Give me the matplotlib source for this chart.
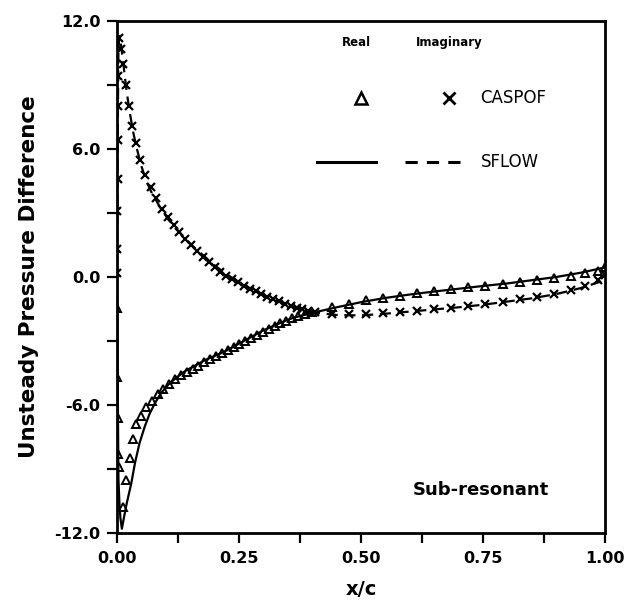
import matplotlib
matplotlib.use('Agg')
import matplotlib.pyplot as plt

plt.rcParams['font.family'] = ['DejaVu Sans']

# SFLOW real part (solid line)
sflow_re_x = [0.0, 0.001, 0.002, 0.003, 0.005, 0.007, 0.010, 0.014, 0.020, 0.029,
              0.037, 0.046, 0.057, 0.067, 0.078, 0.09, 0.105, 0.12, 0.14, 0.16,
              0.18, 0.2, 0.22, 0.24, 0.26, 0.28, 0.3, 0.32, 0.34, 0.36,
              0.38, 0.4, 0.45, 0.5, 0.55, 0.6, 0.65, 0.7, 0.75, 0.8,
              0.85, 0.9, 0.95, 1.0]
sflow_re_y = [0.5, -3.0, -6.5, -9.5, -10.6, -11.3, -11.8, -11.3, -10.6, -9.7,
              -8.7, -7.8, -7.0, -6.4, -5.9, -5.45, -5.05, -4.75, -4.4, -4.15,
              -3.9, -3.7, -3.5, -3.25, -3.0, -2.75, -2.5, -2.3, -2.1, -1.92,
              -1.8, -1.68, -1.42, -1.18, -0.98, -0.82, -0.68, -0.55, -0.42, -0.3,
              -0.15, 0.0, 0.2, 0.45]

# SFLOW imaginary part (dashed line)
sflow_im_x = [0.0, 0.001, 0.002, 0.003, 0.005, 0.008, 0.012, 0.016, 0.021, 0.027,
              0.034, 0.042, 0.05, 0.06, 0.07, 0.08, 0.09, 0.105, 0.12, 0.14,
              0.16, 0.18, 0.2, 0.22, 0.24, 0.26, 0.28, 0.3, 0.32, 0.34,
              0.36, 0.38, 0.4, 0.45, 0.5, 0.55, 0.6, 0.65, 0.7, 0.75,
              0.8, 0.85, 0.9, 0.95, 1.0]
sflow_im_y = [0.0, 4.0, 8.0, 10.8, 11.3, 10.9, 10.2, 9.4, 8.5, 7.6,
              6.7, 5.9, 5.2, 4.5, 4.0, 3.6, 3.2, 2.7, 2.3, 1.8,
              1.35, 0.95, 0.55, 0.2, -0.1, -0.38, -0.62, -0.85, -1.05, -1.22,
              -1.38, -1.52, -1.65, -1.78, -1.8, -1.72, -1.62, -1.52, -1.42, -1.3,
              -1.15, -1.0, -0.8, -0.52, -0.15]

# CASPOF real part (triangles)
caspof_re_x = [0.0, 0.001, 0.002, 0.003, 0.004, 0.012, 0.019, 0.027, 0.033, 0.039,
               0.049, 0.06, 0.071, 0.083, 0.095, 0.107, 0.119, 0.131, 0.143, 0.155,
               0.167, 0.179, 0.191, 0.203, 0.215, 0.227, 0.239, 0.251, 0.263, 0.275,
               0.287, 0.299, 0.311, 0.323, 0.335, 0.347, 0.359, 0.371, 0.385, 0.40,
               0.44, 0.475, 0.51, 0.545, 0.58, 0.615, 0.65, 0.685, 0.72, 0.755,
               0.79, 0.825, 0.86, 0.895, 0.93, 0.96, 0.985, 1.0]
caspof_re_y = [-1.45, -4.7, -6.6, -8.3, -8.9, -10.8, -9.5, -8.5, -7.6, -6.9,
               -6.5, -6.1, -5.8, -5.5, -5.25, -5.0, -4.8, -4.6, -4.45, -4.3,
               -4.15, -4.0, -3.85, -3.7, -3.57, -3.43, -3.3, -3.15, -3.0, -2.85,
               -2.7, -2.57, -2.43, -2.3, -2.17, -2.04, -1.92, -1.83, -1.75, -1.65,
               -1.42, -1.25, -1.1, -0.97, -0.87, -0.77, -0.67, -0.58, -0.49, -0.4,
               -0.31, -0.22, -0.13, -0.03, 0.07, 0.18, 0.3, 0.45]

# CASPOF imaginary part (crosses)
caspof_im_x = [0.0, 0.0005, 0.001, 0.0015, 0.002, 0.0025, 0.003, 0.004, 0.009, 0.013,
               0.018, 0.024, 0.031, 0.039, 0.048, 0.058, 0.069, 0.080, 0.092, 0.104,
               0.116, 0.128, 0.140, 0.152, 0.164, 0.176, 0.188, 0.200, 0.212, 0.224,
               0.236, 0.248, 0.260, 0.272, 0.284, 0.296, 0.308, 0.320, 0.332, 0.344,
               0.356, 0.368, 0.380, 0.392, 0.405, 0.44, 0.475, 0.51, 0.545, 0.58,
               0.615, 0.65, 0.685, 0.72, 0.755, 0.79, 0.825, 0.86, 0.895, 0.93,
               0.96, 0.985, 1.0]
caspof_im_y = [0.2, 1.3, 3.1, 4.6, 6.4, 8.0, 9.4, 11.2, 10.7, 10.0,
               9.0, 8.0, 7.1, 6.3, 5.5, 4.8, 4.2, 3.7, 3.2, 2.8,
               2.45, 2.1, 1.8, 1.5, 1.2, 0.95, 0.7, 0.45, 0.25, 0.05,
               -0.1, -0.25, -0.4, -0.55, -0.67, -0.8, -0.92, -1.03, -1.13, -1.25,
               -1.35, -1.45, -1.52, -1.6, -1.65, -1.72, -1.75, -1.72, -1.68, -1.62,
               -1.57, -1.5, -1.43, -1.36, -1.27, -1.17, -1.05, -0.93, -0.78, -0.6,
               -0.4, -0.15, 0.1]

x_ticks = [0.0, 0.25, 0.5, 0.75, 1.0]
x_tick_labels = ['0.00', '0.25', '0.50', '0.75', '1.00']
y_ticks = [-12.0, -6.0, 0.0, 6.0, 12.0]
y_tick_labels = ['-12.0', '-6.0', '0.0', '6.0', '12.0']

fig = plt.figure(figsize=(6.27, 6.16), dpi=100)
ax = fig.add_axes([0.1866, 0.1347, 0.7783, 0.8312])

ax.plot(sflow_re_x, sflow_re_y, color='black', lw=1.6, zorder=2)
ax.plot(sflow_im_x, sflow_im_y, color='black', lw=1.6, dashes=(5, 3), zorder=2)
ax.plot(caspof_re_x, caspof_re_y, ls='none', marker='^', ms=5.5, mfc='none',
        mec='black', mew=1.4, zorder=3)
ax.plot(caspof_im_x, caspof_im_y, ls='none', marker='x', ms=5.5,
        mec='black', mew=1.6, zorder=3)

ax.set_xlim(0, 1.0)
ax.set_ylim(-12, 12)
ax.set_xticks(x_ticks)
ax.set_xticklabels(x_tick_labels)
ax.set_yticks(y_ticks)
ax.set_yticklabels(y_tick_labels)
ax.set_xticks([0.125, 0.375, 0.625, 0.875], minor=True)
ax.set_yticks([-9, -3, 3, 9], minor=True)
ax.tick_params(which='both', direction='out', length=7, width=1.6, color='black')
ax.tick_params(which='major', labelsize=11.5)
ax.tick_params(axis='x', which='major', pad=6)
ax.tick_params(axis='y', which='major', pad=5)
for lab in ax.get_xticklabels() + ax.get_yticklabels():
    lab.set_fontweight('bold')
for s in ax.spines.values():
    s.set_linewidth(2.0)

ax.set_xlabel('x/c', fontsize=14, fontweight='bold', labelpad=10)
ax.set_ylabel('Unsteady Pressure Difference', fontsize=15.5, fontweight='bold', labelpad=11)

# legend block drawn inside the axes
ax.text(0.49, 0.958, 'Real', transform=ax.transAxes, ha='center', va='center',
        fontsize=8.5, fontweight='bold')
ax.text(0.68, 0.958, 'Imaginary', transform=ax.transAxes, ha='center', va='center',
        fontsize=8.5, fontweight='bold')
ax.plot([0.50], [0.85], transform=ax.transAxes, marker='^', ms=9, mfc='none',
        mec='black', mew=1.8, ls='none')
ax.plot([0.68], [0.85], transform=ax.transAxes, marker='x', ms=8,
        mec='black', mew=2.0, ls='none')
ax.text(0.745, 0.85, 'CASPOF', transform=ax.transAxes, ha='left', va='center',
        fontsize=12)
ax.plot([0.41, 0.53], [0.725, 0.725], transform=ax.transAxes, color='black', lw=2.2)
ax.plot([0.59, 0.72], [0.725, 0.725], transform=ax.transAxes, color='black', lw=2.2,
        dashes=(4, 3))
ax.text(0.745, 0.725, 'SFLOW', transform=ax.transAxes, ha='left', va='center',
        fontsize=12)

ax.text(0.745, 0.084, 'Sub-resonant', transform=ax.transAxes, ha='center', va='center',
        fontsize=13, fontweight='bold')

fig.savefig('out.png', dpi=100)
